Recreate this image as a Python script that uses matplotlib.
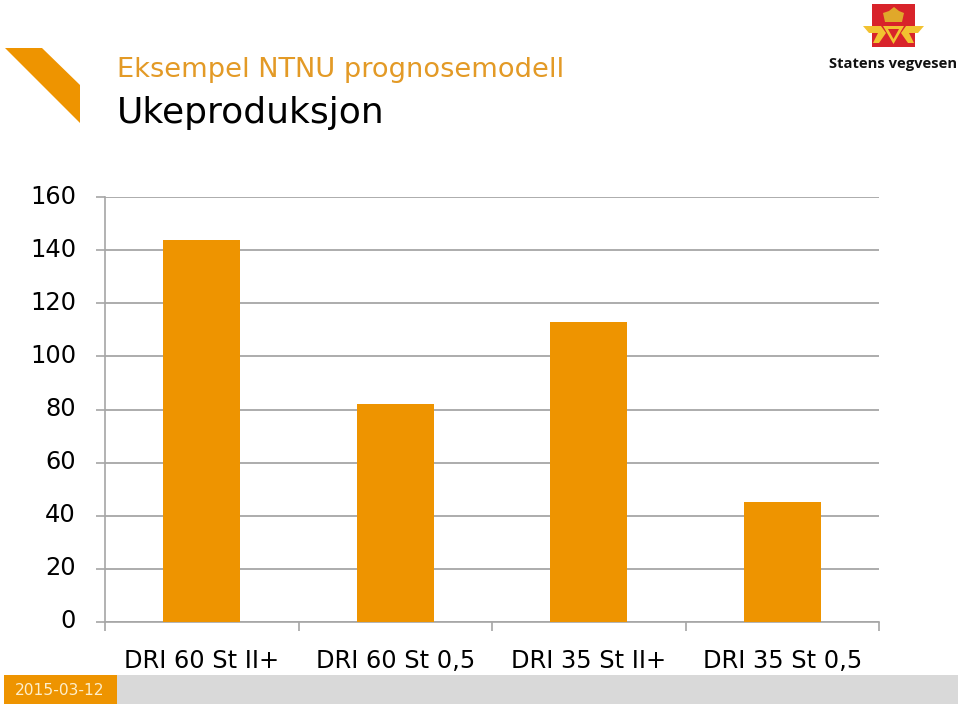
import matplotlib
matplotlib.use("Agg")
import matplotlib.pyplot as plt
from matplotlib.patches import Polygon, Rectangle
from matplotlib.transforms import ScaledTranslation

plt.rcParams['font.family'] = ['DejaVu Sans']

categories = ["DRI 60 St II+", "DRI 60 St 0,5", "DRI 35 St II+", "DRI 35 St 0,5"]
values = [144, 82, 113, 45]
yticks = [0, 20, 40, 60, 80, 100, 120, 140, 160]

ORANGE = "#ee9400"
GREY = "#a6a6a6"
W, H = 960, 707

fig = plt.figure(figsize=(W / 100, H / 100), dpi=100)

# chart area
ax = fig.add_axes([105 / W, (H - 622) / H, 774 / W, 425 / H])
ax.bar(range(len(values)), values, width=0.4, color=ORANGE, zorder=3)
ax.set_xlim(-0.5, 3.5)
ax.set_ylim(0, 160)
ax.set_yticks(yticks)
ax.set_xticks([-0.5, 0.5, 1.5, 2.5, 3.5])
ax.set_xticklabels([])
ax.tick_params(axis="x", length=6.5, width=1.2, color=GREY)
ax.tick_params(axis="y", length=6.5, width=1.2, color=GREY, labelsize=17.4, pad=14.4)
ax.grid(axis="y", color=GREY, lw=1.3, zorder=1)
for s in ["top", "right"]:
    ax.spines[s].set_visible(False)
for s in ["left", "bottom"]:
    ax.spines[s].set_color(GREY)
    ax.spines[s].set_linewidth(1.2)
# labels sit a little above their ticks
up = ScaledTranslation(0, 3 / 100, fig.dpi_scale_trans)
for t in ax.get_yticklabels():
    t.set_transform(t.get_transform() + up)
for n, label in enumerate(categories):
    ax.annotate(label, (n, 0), xytext=(0, -46), xycoords=("data", "axes fraction"),
                textcoords="offset pixels", ha="center", va="baseline", fontsize=17.4)

# slide furniture, drawn in pixel coordinates
bg = fig.add_axes([0, 0, 1, 1], zorder=5)
bg.set_xlim(0, W)
bg.set_ylim(H, 0)
bg.axis("off")
bg.patch.set_alpha(0)

bg.add_patch(Polygon([(5, 48), (42, 48), (80, 85), (80, 123)], color=ORANGE, lw=0))
bg.text(117, 77, "Eksempel NTNU prognosemodell", color="#e39a26", fontsize=19.6, va="baseline")
bg.text(117, 123, "Ukeproduksjon", color="black", fontsize=26, va="baseline")

bg.add_patch(Rectangle((4, 675), 113, 29, color=ORANGE, lw=0))
bg.add_patch(Rectangle((117, 675), 841, 29, color="#d9d9d9", lw=0))
bg.text(60, 695, "2015-03-12", color="#fdeecb", fontsize=11.2, ha="center", va="baseline")

# logo
RED = "#d8232a"
GOLD = "#f2c230"
bg.add_patch(Rectangle((872, 4), 43, 43, color=RED, lw=0))
bg.add_patch(Polygon([(885, 22), (902, 22), (904, 13), (899, 11), (894, 7), (889, 11), (883, 13)],
                     color="#e0a82a", lw=0))
bg.add_patch(Polygon([(883, 26), (904, 26), (893.5, 44)], color=GOLD, lw=0))
bg.add_patch(Polygon([(888, 29), (899, 29), (893.5, 39)], color=RED, lw=0))
bg.add_patch(Polygon([(863, 26), (881, 26), (886, 33), (879, 43), (873, 43), (878, 33), (869, 33)],
                     color=GOLD, lw=0))
bg.add_patch(Polygon([(924, 26), (906, 26), (901, 33), (908, 43), (914, 43), (909, 33), (918, 33)],
                     color=GOLD, lw=0))
bg.text(893, 68, "Statens vegvesen", color="#111111", fontsize=10.6, fontweight="bold",
        family="Open Sans", ha="center", va="baseline")

fig.savefig("out.png", dpi=100)
